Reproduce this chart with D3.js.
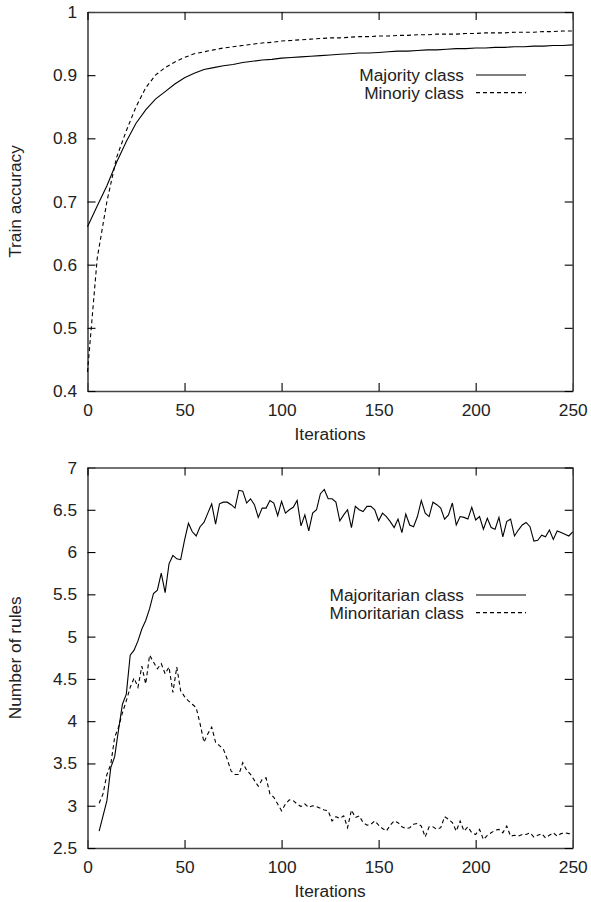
<!DOCTYPE html>
<html>
<head>
<meta charset="utf-8">
<script src="https://cdn.jsdelivr.net/npm/d3@7"></script>
<style>
  body { margin: 0; background: #fff; }
  text { font-family: "Liberation Sans", Arial, Helvetica, sans-serif; }
</style>
</head>
<body>
<div id="chart"></div>
<script>
// ---- data ----
var xTicks = [0, 50, 100, 150, 200, 250];

// train accuracy, read every 5 iterations
var accIter = [0, 5, 10, 15, 20, 25, 30, 35, 40, 45, 50, 55, 60, 65, 70, 75, 80, 85, 90, 95, 100,
  105, 110, 115, 120, 125, 130, 135, 140, 145, 150, 155, 160, 165, 170, 175, 180, 185, 190, 195, 200,
  205, 210, 215, 220, 225, 230, 235, 240, 245, 250];
var accMajority = [0.660, 0.693, 0.725, 0.762, 0.795, 0.824, 0.845, 0.862, 0.874, 0.886, 0.896,
  0.903, 0.909, 0.912, 0.915, 0.917, 0.920, 0.922, 0.924, 0.925, 0.927,
  0.928, 0.929, 0.930, 0.931, 0.932, 0.933, 0.934, 0.935, 0.935, 0.936,
  0.937, 0.938, 0.938, 0.939, 0.940, 0.940, 0.941, 0.942, 0.942, 0.943,
  0.943, 0.944, 0.944, 0.945, 0.945, 0.946, 0.946, 0.947, 0.947, 0.948];
var accMinority = [0.430, 0.610, 0.700, 0.770, 0.812, 0.850, 0.880, 0.900, 0.912, 0.921, 0.928,
  0.934, 0.937, 0.940, 0.943, 0.945, 0.947, 0.949, 0.951, 0.952, 0.954,
  0.955, 0.956, 0.957, 0.958, 0.959, 0.959, 0.960, 0.961, 0.961, 0.962,
  0.962, 0.963, 0.963, 0.964, 0.964, 0.965, 0.965, 0.965, 0.966, 0.966,
  0.967, 0.967, 0.967, 0.968, 0.968, 0.968, 0.969, 0.969, 0.970, 0.970];
var accTicks = [0.4, 0.5, 0.6, 0.7, 0.8, 0.9, 1];
var accTickLabels = ["0.4", "0.5", "0.6", "0.7", "0.8", "0.9", "1"];

// number of rules, every 2 iterations
var rulesIter = [6, 8, 10, 12, 14, 16, 18, 20, 22, 24, 26, 28, 30, 32, 34, 36, 38, 40, 42, 44, 46, 48, 50,
  52, 54, 56, 58, 60, 62, 64, 66, 68, 70, 72, 74, 76, 78, 80, 82, 84, 86, 88, 90, 92, 94, 96, 98, 100,
  102, 104, 106, 108, 110, 112, 114, 116, 118, 120, 122, 124, 126, 128, 130, 132, 134, 136, 138, 140,
  142, 144, 146, 148, 150, 152, 154, 156, 158, 160, 162, 164, 166, 168, 170, 172, 174, 176, 178, 180,
  182, 184, 186, 188, 190, 192, 194, 196, 198, 200, 202, 204, 206, 208, 210, 212, 214, 216, 218, 220,
  222, 224, 226, 228, 230, 232, 234, 236, 238, 240, 242, 244, 246, 248, 250];
var rulesMajor = [2.70, 2.88, 3.06, 3.45, 3.58, 3.90, 4.20, 4.32, 4.78, 4.84, 4.95, 5.09, 5.19, 5.33, 5.51,
  5.55, 5.75, 5.52, 5.86, 5.96, 5.92, 5.91, 6.14, 6.34, 6.24, 6.19, 6.30, 6.35, 6.46, 6.57, 6.33, 6.57,
  6.59, 6.59, 6.56, 6.52, 6.73, 6.72, 6.58, 6.63, 6.56, 6.41, 6.52, 6.52, 6.61, 6.58, 6.43, 6.60, 6.46,
  6.50, 6.53, 6.61, 6.31, 6.44, 6.25, 6.46, 6.50, 6.69, 6.74, 6.63, 6.63, 6.59, 6.37, 6.44, 6.50, 6.29,
  6.54, 6.50, 6.48, 6.54, 6.54, 6.50, 6.37, 6.46, 6.42, 6.36, 6.29, 6.39, 6.23, 6.45, 6.32, 6.30, 6.42,
  6.61, 6.46, 6.42, 6.59, 6.56, 6.52, 6.39, 6.44, 6.58, 6.32, 6.42, 6.41, 6.39, 6.53, 6.38, 6.42, 6.27,
  6.40, 6.29, 6.27, 6.41, 6.18, 6.36, 6.39, 6.19, 6.26, 6.32, 6.35, 6.30, 6.13, 6.14, 6.20, 6.18, 6.26,
  6.15, 6.25, 6.23, 6.21, 6.19, 6.24];
var rulesMinor = [3.03, 3.14, 3.37, 3.49, 3.81, 3.93, 4.10, 4.24, 4.40, 4.51, 4.40, 4.65, 4.44, 4.78, 4.70,
  4.62, 4.68, 4.56, 4.64, 4.34, 4.64, 4.36, 4.29, 4.24, 4.20, 4.16, 3.97, 3.75, 3.85, 3.93, 3.75, 3.71,
  3.67, 3.55, 3.41, 3.37, 3.37, 3.51, 3.42, 3.37, 3.30, 3.23, 3.31, 3.33, 3.14, 3.10, 3.02, 2.94, 3.02,
  3.07, 3.06, 3.02, 2.99, 3.02, 2.98, 3.00, 2.99, 2.97, 2.95, 2.94, 2.82, 2.87, 2.85, 2.88, 2.74, 2.95,
  2.86, 2.88, 2.80, 2.77, 2.78, 2.82, 2.77, 2.73, 2.70, 2.77, 2.82, 2.80, 2.75, 2.73, 2.74, 2.78, 2.79,
  2.76, 2.63, 2.75, 2.75, 2.72, 2.74, 2.87, 2.84, 2.80, 2.70, 2.82, 2.70, 2.75, 2.68, 2.66, 2.72, 2.60,
  2.65, 2.68, 2.71, 2.72, 2.68, 2.76, 2.64, 2.65, 2.64, 2.66, 2.66, 2.68, 2.63, 2.65, 2.67, 2.62, 2.65,
  2.68, 2.64, 2.67, 2.68, 2.67, 2.67];
var rulesTicks = [2.5, 3, 3.5, 4, 4.5, 5, 5.5, 6, 6.5, 7];
var rulesTickLabels = ["2.5", "3", "3.5", "4", "4.5", "5", "5.5", "6", "6.5", "7"];

// ---- layout ----
var width = 591, height = 902;
var fontSize = "17.3px";
var plotLeft = 87.5, plotRight = 572.7;

var svg = d3.select("#chart")
  .append("svg")
    .attr("width", width)
    .attr("height", height);

function drawPanel(top, bottom, yDomain, yTicks, yLabels, yTitle, iters, lines, names, legendY) {
  var x = d3.scaleLinear().domain([0, 250]).range([plotLeft, plotRight]);
  var y = d3.scaleLinear().domain(yDomain).range([bottom, top]);
  var g = svg.append("g");

  // bottom + left axes with labels, ticks pointing inward
  var xa = g.append("g")
    .attr("transform", "translate(0," + bottom + ")")
    .call(d3.axisBottom(x).tickValues(xTicks).tickSizeInner(-8).tickSizeOuter(0).tickPadding(12.5));
  var ya = g.append("g")
    .attr("transform", "translate(" + plotLeft + ",0)")
    .call(d3.axisLeft(y).tickValues(yTicks).tickFormat(function (d, i) { return yLabels[i]; })
      .tickSizeInner(-8).tickSizeOuter(0).tickPadding(10.5));
  // mirrored ticks on top and right
  var ta = g.append("g")
    .attr("transform", "translate(0," + top + ")")
    .call(d3.axisTop(x).tickValues(xTicks).tickSizeInner(-8).tickSizeOuter(0).tickFormat(""));
  var ra = g.append("g")
    .attr("transform", "translate(" + plotRight + ",0)")
    .call(d3.axisRight(y).tickValues(yTicks).tickSizeInner(-8).tickSizeOuter(0).tickFormat(""));

  [xa, ya, ta, ra].forEach(function (a) {
    a.attr("color", "#000");
    a.select(".domain").attr("stroke", "#444").attr("stroke-width", 1.6);
    a.selectAll(".tick line").attr("stroke-width", 1.1);
    a.selectAll("text").style("font-size", fontSize).attr("fill", "#222");
  });

  // axis titles
  g.append("text")
    .attr("x", (plotLeft + plotRight) / 2)
    .attr("y", bottom + 49)
    .attr("text-anchor", "middle")
    .style("font-size", fontSize)
    .attr("fill", "#222")
    .text("Iterations");
  g.append("text")
    .attr("transform", "rotate(-90)")
    .attr("x", -(top + bottom) / 2)
    .attr("y", 21)
    .attr("text-anchor", "middle")
    .style("font-size", fontSize)
    .attr("fill", "#222")
    .text(yTitle);

  // series
  var line = d3.line()
    .x(function (d) { return x(d[0]); })
    .y(function (d) { return y(d[1]); });
  lines.forEach(function (vals, k) {
    g.append("path")
      .datum(iters.map(function (it, i) { return [it, vals[i]]; }))
      .attr("fill", "none")
      .attr("stroke", "#000")
      .attr("stroke-width", 1.1)
      .attr("stroke-dasharray", k == 1 ? "4,3" : null)
      .attr("d", line);
  });

  // legend (gnuplot style: text right-aligned, sample line after it)
  names.forEach(function (name, k) {
    var yy = legendY + k * 17.6;
    g.append("text")
      .attr("x", 464)
      .attr("y", yy)
      .attr("dy", "0.35em")
      .attr("text-anchor", "end")
      .style("font-size", fontSize)
      .attr("fill", "#222")
      .text(name);
    g.append("line")
      .attr("x1", 476).attr("x2", 526)
      .attr("y1", yy).attr("y2", yy)
      .attr("stroke", "#000")
      .attr("stroke-width", 1.1)
      .attr("stroke-dasharray", k == 1 ? "4,3" : null);
  });
}

drawPanel(12, 391, [0.4, 1], accTicks, accTickLabels, "Train accuracy",
  accIter, [accMajority, accMinority], ["Majority class", "Minoriy class"], 75);

drawPanel(467.5, 848, [2.5, 7], rulesTicks, rulesTickLabels, "Number of rules",
  rulesIter, [rulesMajor, rulesMinor], ["Majoritarian class", "Minoritarian class"], 595);
</script>
</body>
</html>
